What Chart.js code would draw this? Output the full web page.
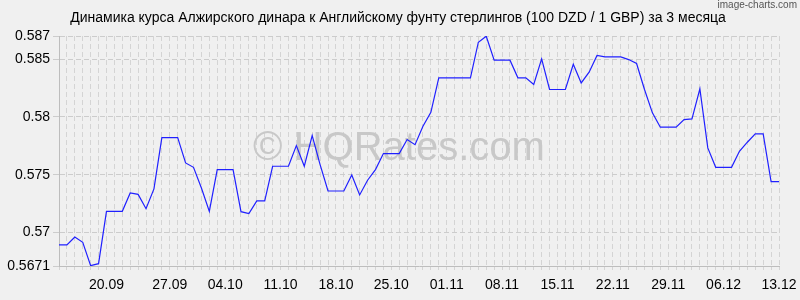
<!DOCTYPE html>
<html>
<head>
<meta charset="utf-8">
<script src="https://cdn.jsdelivr.net/npm/chart.js@4.4.0/dist/chart.umd.min.js"></script>
<style>
  html, body { margin: 0; padding: 0; background: #f0f0f0; }
  #wrap { width: 800px; height: 300px; }
</style>
</head>
<body>
<div id="wrap"><canvas id="chart"></canvas></div>
<script>
// курс 100 DZD / 1 GBP, по дням с 13.09 по 13.12
var rates = [
  0.56892, 0.56892, 0.56961, 0.56915, 0.56713, 0.56730, 0.57183, 0.57183, 0.57183, 0.57342,
  0.57330, 0.57206, 0.57377, 0.57821, 0.57821, 0.57821, 0.57602, 0.57564, 0.57385, 0.57183,
  0.57544, 0.57544, 0.57544, 0.57180, 0.57163, 0.57273, 0.57273, 0.57573, 0.57573, 0.57573,
  0.57752, 0.57573, 0.57838, 0.57587, 0.57359, 0.57359, 0.57359, 0.57498, 0.57325, 0.57452,
  0.57544, 0.57683, 0.57683, 0.57683, 0.57804, 0.57760, 0.57919, 0.58040, 0.58338, 0.58338,
  0.58338, 0.58338, 0.58338, 0.58646, 0.58698, 0.58491, 0.58491, 0.58491, 0.58338, 0.58338,
  0.58280, 0.58502, 0.58237, 0.58237, 0.58237, 0.58456, 0.58294, 0.58387, 0.58531, 0.58519,
  0.58519, 0.58519, 0.58496, 0.58462, 0.58237, 0.58035, 0.57911, 0.57911, 0.57911, 0.57977,
  0.57983, 0.58242, 0.57732, 0.57564, 0.57564, 0.57564, 0.57703, 0.57781, 0.57853, 0.57853,
  0.57440, 0.57440
];

// подписи оси X и номера точек, под которыми они стоят
var xTickLabels = ['20.09', '27.09', '04.10', '11.10', '18.10', '25.10', '01.11',
                   '08.11', '15.11', '22.11', '29.11', '06.12', '13.12'];
var xTickAt = [6, 14, 21, 28, 35, 42, 49, 56, 63, 70, 77, 84, 91];

var yTicks = [0.5671, 0.57, 0.575, 0.58, 0.585, 0.587];
var yMin = 0.5671, yMax = 0.587;

var title = 'Динамика курса Алжирского динара к Английскому фунту стерлингов (100 DZD / 1 GBP) за 3 месяца';

// даты для категорий
var days = [];
var start = new Date(2023, 8, 13);
for (var i = 0; i < rates.length; i++) {
    var d = new Date(start.getTime() + i * 86400000);
    days.push(('0' + d.getDate()).slice(-2) + '.' + ('0' + (d.getMonth() + 1)).slice(-2));
}

var FONT = "'Liberation Sans', Arial, sans-serif";

// заголовок и водяные знаки
var marks = {
    id: 'marks',
    beforeDatasetsDraw: function (chart) {
        var ctx = chart.ctx;
        ctx.save();
        ctx.fillStyle = '#c8c8c8';
        ctx.font = '40px ' + FONT;
        ctx.textAlign = 'center';
        ctx.textBaseline = 'alphabetic';
        ctx.fillText('\u00a9 HQRates.com', 399, 160);
        ctx.restore();
    },
    afterDraw: function (chart) {
        var ctx = chart.ctx;
        ctx.save();
        ctx.fillStyle = '#000';
        ctx.font = '14px ' + FONT;
        ctx.textAlign = 'center';
        ctx.textBaseline = 'middle';
        ctx.fillText(title, 398, 18);

        ctx.fillStyle = '#555';
        ctx.font = "10px 'Liberation Sans Narrow', " + FONT;
        ctx.textAlign = 'right';
        ctx.textBaseline = 'top';
        ctx.fillText('image-charts.com', 797, 0);
        ctx.restore();
    }
};

var ctx = document.getElementById('chart');
new Chart(ctx, {
    type: 'line',
    data: {
        labels: days,
        datasets: [{
            data: rates,
            borderColor: '#2020ff',
            borderWidth: 1.2,
            pointRadius: 0,
            tension: 0,
            fill: false
        }]
    },
    options: {
        responsive: true,
        maintainAspectRatio: false,
        animation: false,
        layout: { padding: { left: 0, right: 21, top: 36, bottom: 0 } },
        plugins: {
            legend: { display: false },
            tooltip: { enabled: false },
            title: { display: false }
        },
        scales: {
            x: {
                ticks: {
                    autoSkip: false,
                    maxRotation: 0,
                    color: '#000',
                    font: { family: FONT, size: 14 },
                    padding: 7,
                    callback: function (val, index) {
                        var k = xTickAt.indexOf(index);
                        return k >= 0 ? xTickLabels[k] : '';
                    }
                },
                grid: { color: '#d4d4d4', lineWidth: 1, tickLength: 4 },
                border: { display: true, color: '#bdbdbd', dash: [5, 3] },
                afterFit: function (scale) {
                    scale.height = 34;
                    scale.paddingLeft = 0;
                    scale.paddingRight = 0;
                }
            },
            y: {
                min: yMin,
                max: yMax,
                afterBuildTicks: function (scale) {
                    scale.ticks = yTicks.map(function (v) { return { value: v }; });
                },
                ticks: {
                    color: '#000',
                    font: { family: FONT, size: 14 },
                    padding: 3,
                    callback: function (v) { return String(v); }
                },
                grid: { color: '#cccccc', lineWidth: 1, tickLength: 6 },
                border: { display: true, color: '#bdbdbd', dash: [5, 3] },
                afterFit: function (scale) {
                    scale.width = 59;
                    scale.paddingTop = 0;
                    scale.paddingBottom = 0;
                }
            }
        }
    },
    plugins: [marks]
});
</script>
</body>
</html>
